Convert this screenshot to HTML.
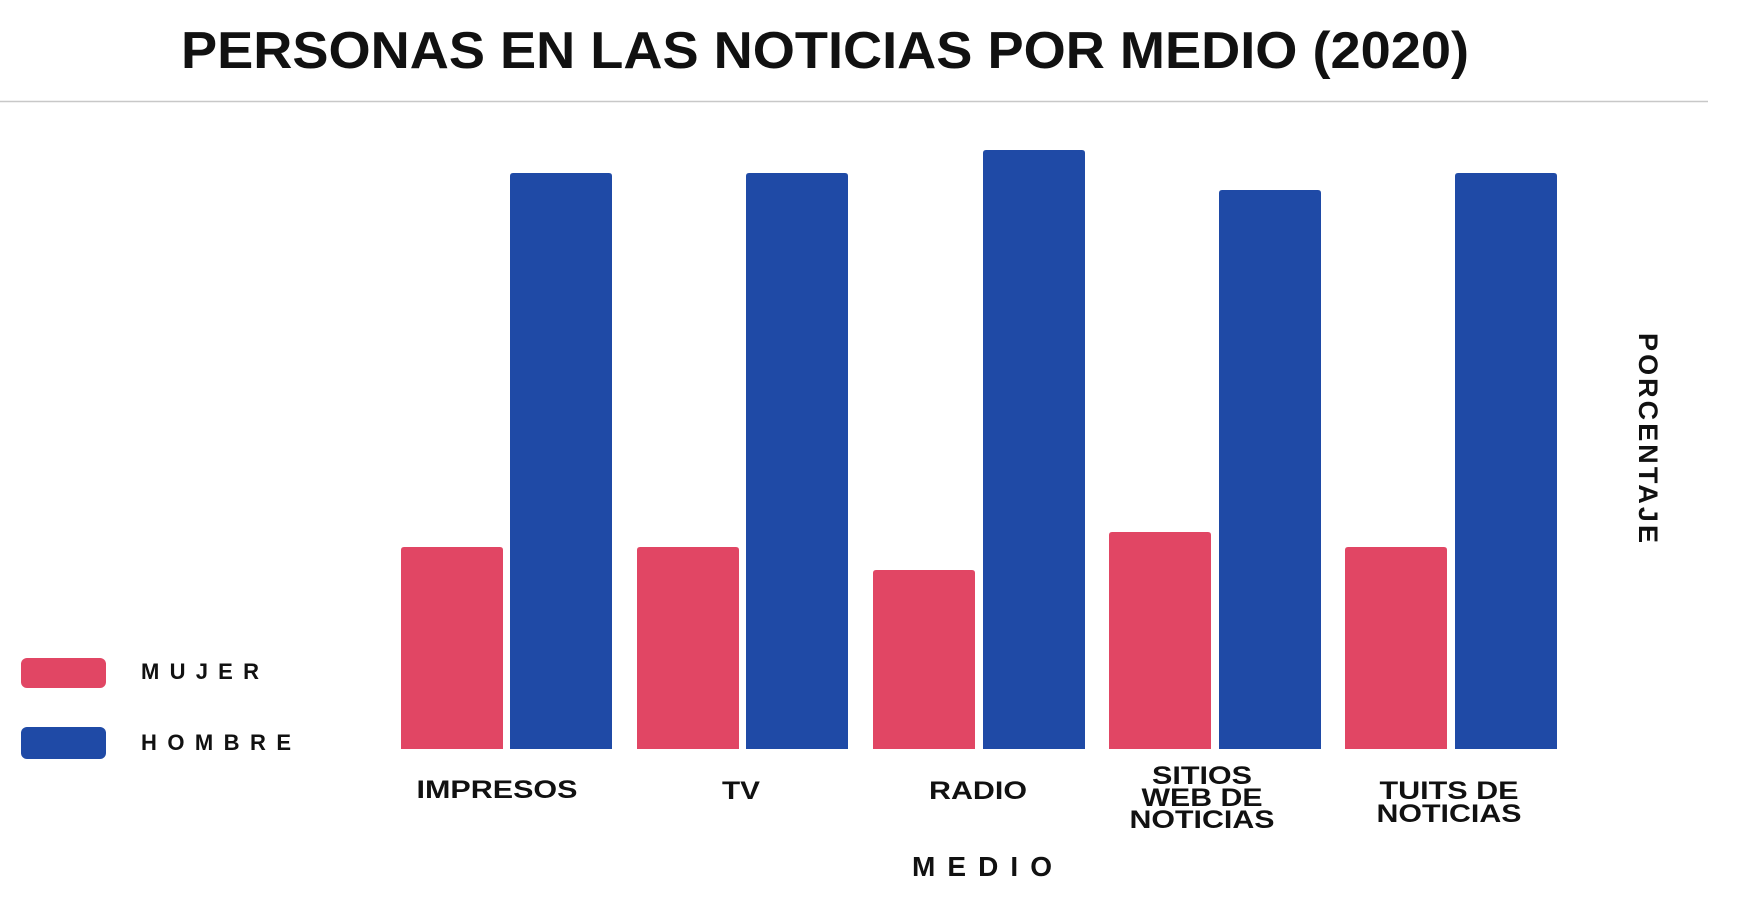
<!DOCTYPE html>
<html><head><meta charset="utf-8"><style>
html,body{margin:0;padding:0;background:#fff;}
svg{display:block;font-family:"Liberation Sans",Arial,sans-serif;}
</style></head><body>
<svg width="1740" height="898" viewBox="0 0 1740 898" xmlns="http://www.w3.org/2000/svg">
<rect width="1740" height="898" fill="#fff"/>
<text x="181" y="68" font-size="52" font-weight="bold" fill="#111" textLength="1288" lengthAdjust="spacingAndGlyphs">PERSONAS  EN LAS NOTICIAS POR MEDIO (2020)</text>
<line x1="0" y1="101.5" x2="1708" y2="101.5" stroke="#c8c8c8" stroke-width="1.5"/>
<g fill="#e14664">
<path d="M401,749 V550 q0,-3 3,-3 h96 q3,0 3,3 V749Z"/>
<path d="M637,749 V550 q0,-3 3,-3 h96 q3,0 3,3 V749Z"/>
<path d="M873,749 V573 q0,-3 3,-3 h96 q3,0 3,3 V749Z"/>
<path d="M1109,749 V535 q0,-3 3,-3 h96 q3,0 3,3 V749Z"/>
<path d="M1345,749 V550 q0,-3 3,-3 h96 q3,0 3,3 V749Z"/>
</g>
<g fill="#1f4aa6">
<path d="M510,749 V176 q0,-3 3,-3 h96 q3,0 3,3 V749Z"/>
<path d="M746,749 V176 q0,-3 3,-3 h96 q3,0 3,3 V749Z"/>
<path d="M983,749 V153 q0,-3 3,-3 h96 q3,0 3,3 V749Z"/>
<path d="M1219,749 V193 q0,-3 3,-3 h96 q3,0 3,3 V749Z"/>
<path d="M1455,749 V176 q0,-3 3,-3 h96 q3,0 3,3 V749Z"/>
</g>
<rect x="21" y="658" width="85" height="30" rx="6" fill="#e14664"/>
<rect x="21" y="727" width="85" height="32" rx="6" fill="#1f4aa6"/>
<g font-size="22" font-weight="bold" fill="#111">
<text x="141" y="679" textLength="118">MUJER</text>
<text x="141" y="750" textLength="150">HOMBRE</text>
</g>
<g font-size="25" font-weight="bold" fill="#111" text-anchor="middle">
<text x="497" y="798" textLength="161" lengthAdjust="spacingAndGlyphs">IMPRESOS</text>
<text x="741" y="799" textLength="38" lengthAdjust="spacingAndGlyphs">TV</text>
<text x="978" y="799" textLength="98" lengthAdjust="spacingAndGlyphs">RADIO</text>
<text x="1202" y="784" textLength="100" lengthAdjust="spacingAndGlyphs">SITIOS</text>
<text x="1202" y="806" textLength="121" lengthAdjust="spacingAndGlyphs">WEB DE</text>
<text x="1202" y="828" textLength="145" lengthAdjust="spacingAndGlyphs">NOTICIAS</text>
<text x="1449" y="799" textLength="139" lengthAdjust="spacingAndGlyphs">TUITS DE</text>
<text x="1449" y="822" textLength="145" lengthAdjust="spacingAndGlyphs">NOTICIAS</text>
</g>
<text x="982" y="876" font-size="28" font-weight="bold" fill="#111" text-anchor="middle" textLength="140">MEDIO</text>
<text transform="translate(1639,438) rotate(90)" font-size="27" font-weight="bold" fill="#111" text-anchor="middle" textLength="210">PORCENTAJE</text>
</svg>
</body></html>
